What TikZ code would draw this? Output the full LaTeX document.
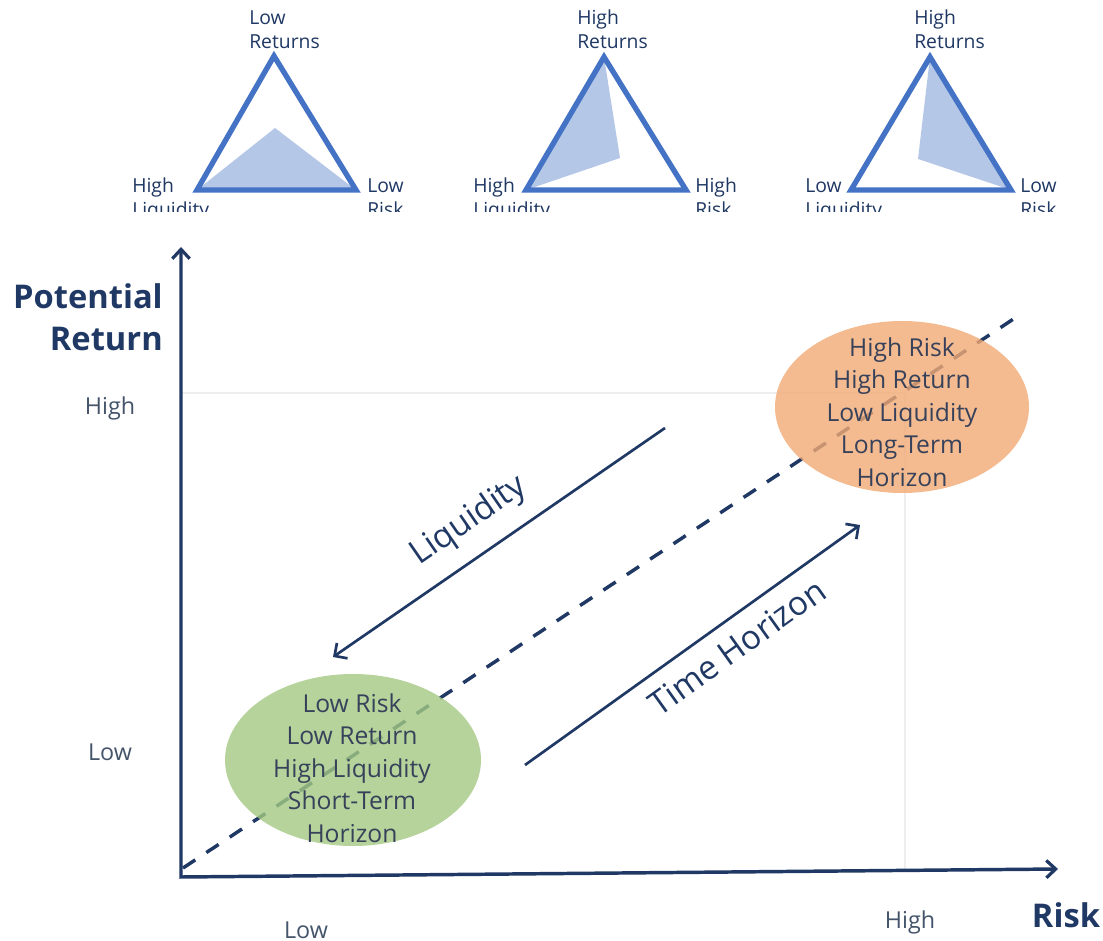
\documentclass[tikz,border=0pt]{standalone}
\usepackage{fontspec}
\setmainfont{Open Sans}
\usetikzlibrary{arrows.meta,shapes.geometric}
\definecolor{navy}{HTML}{1F3864}
\definecolor{triblue}{HTML}{4472C4}
\definecolor{trifill}{HTML}{B4C7E7}
\definecolor{orng}{HTML}{F2AA75}
\definecolor{grn}{HTML}{A3C983}
\definecolor{txtdark}{HTML}{37415A}
\definecolor{axlab}{HTML}{44546A}
\definecolor{gridc}{HTML}{EEEEEE}
\tikzset{
  trioutline/.style={draw=triblue, line width=4pt, line join=miter},
  trishade/.style={fill=trifill},
  trilab/.style={anchor=base west, align=left, inner sep=0pt, text=navy,
    font=\fontsize{14.5}{18}\selectfont},
  axisline/.style={draw=navy, line width=2.6pt,
    arrows={Straight Barb[length=7pt,width=13pt,line width=2.4pt]-Straight Barb[length=7pt,width=13pt,line width=2.4pt]}},
  dirarrow/.style={draw=navy, line width=2pt,
    -{Straight Barb[length=7pt,width=14pt,line width=2pt]}},
  diag/.style={draw=navy, line width=2.6pt, dash pattern=on 11pt off 10pt},
  blob/.style={ellipse, inner sep=0pt, fill opacity=0.8},
  blobtext/.style={align=center, text=txtdark, inner sep=0pt,
    font=\fontsize{18.5}{24.3}\selectfont},
  dirlab/.style={text=navy, inner sep=0pt, font=\fontsize{25}{29}\selectfont},
  levlab/.style={text=axlab, inner sep=0pt, font=\fontsize{17.5}{21}\selectfont},
  axtitle/.style={text=navy, inner sep=0pt, font=\bfseries\fontsize{24.5}{31.5}\selectfont},
  gridline/.style={draw=gridc, line width=0.8pt}
}
\begin{document}
\begin{tikzpicture}[x=0.75pt,y=-0.75pt]
\useasboundingbox (0,0) rectangle (1103,941);
\fill[white] (0,0) rectangle (1103,941);

% ---------- top triangles (cut off at the bottom) ----------
\begin{scope}
\clip (0,0) rectangle (1103,212);
% triangle 1
\coordinate (a1) at (274,56);
\coordinate (b1) at (197,190);
\coordinate (c1) at (356,190);
\coordinate (p1) at (275,128);
\fill[trishade] (b1) -- (p1) -- (c1) -- cycle;
\draw[trioutline] (a1) -- (b1) -- (c1) -- cycle;
\node[trilab] (t1top) at (249,49) {Low\\Returns};
\node[trilab] (t1left) at (132,217) {High\\Liquidity};
\node[trilab] (t1right) at (367,217) {Low\\Risk};
% triangle 2
\coordinate (a2) at (604,57);
\coordinate (b2) at (526,190);
\coordinate (c2) at (686,190);
\coordinate (p2) at (620,158);
\fill[trishade] (a2) -- (b2) -- (p2) -- cycle;
\draw[trioutline] (a2) -- (b2) -- (c2) -- cycle;
\node[trilab] (t2top) at (577,49) {High\\Returns};
\node[trilab] (t2left) at (473,217) {High\\Liquidity};
\node[trilab] (t2right) at (695,217) {High\\Risk};
% triangle 3
\coordinate (a3) at (930,57);
\coordinate (b3) at (851,190);
\coordinate (c3) at (1011,190);
\coordinate (p3) at (918,159);
\fill[trishade] (a3) -- (p3) -- (c3) -- cycle;
\draw[trioutline] (a3) -- (b3) -- (c3) -- cycle;
\node[trilab] (t3top) at (914,49) {High\\Returns};
\node[trilab] (t3left) at (805,217) {Low\\Liquidity};
\node[trilab] (t3right) at (1020,217) {Low\\Risk};
\end{scope}

% ---------- chart ----------
\coordinate (O) at (181,877);
\coordinate (ytop) at (181,247);
\coordinate (xend) at (1058,869);
\coordinate (gh) at (181,393);
\coordinate (gc) at (905,393);
\coordinate (gv) at (905,872);
\draw[gridline] (gh) -- (gc) -- (gv);

\draw[axisline] (ytop) -- (O) -- (xend);

\coordinate (d0) at (183,868);
\coordinate (d1) at (1015,318);
\draw[diag] (d0) -- (d1);

\node[blob, fill=orng, minimum width=190.5pt, minimum height=129pt] (hiblob) at (902,407) {};
\node[blob, fill=grn, minimum width=192pt, minimum height=129pt] (loblob) at (353,760) {};
\node[blobtext] (hitext) at (902,412) {High Risk\\High Return\\Low Liquidity\\Long-Term\\Horizon};
\node[blobtext] (lotext) at (352,768) {Low Risk\\Low Return\\High Liquidity\\Short-Term\\Horizon};

\coordinate (l0) at (665,428);
\coordinate (l1) at (333,657);
\draw[dirarrow] (l0) -- (l1);
\node[dirlab, rotate=34.6] (liqlab) at (469,521) {Liquidity};

\coordinate (h0) at (525,765);
\coordinate (h1) at (860,525);
\draw[dirarrow] (h0) -- (h1);
\node[dirlab, rotate=35.6] (timelab) at (737,647) {Time Horizon};

\node[axtitle, anchor=east, align=right] (ytitle) at (163,317) {Potential\\Return};
\node[axtitle] (xtitle) at (1066,915) {Risk};
\node[levlab] (yhigh) at (110,408) {High};
\node[levlab] (ylow) at (110,752) {Low};
\node[levlab] (xlow) at (306,930) {Low};
\node[levlab] (xhigh) at (910,922) {High};
\end{tikzpicture}
\end{document}
